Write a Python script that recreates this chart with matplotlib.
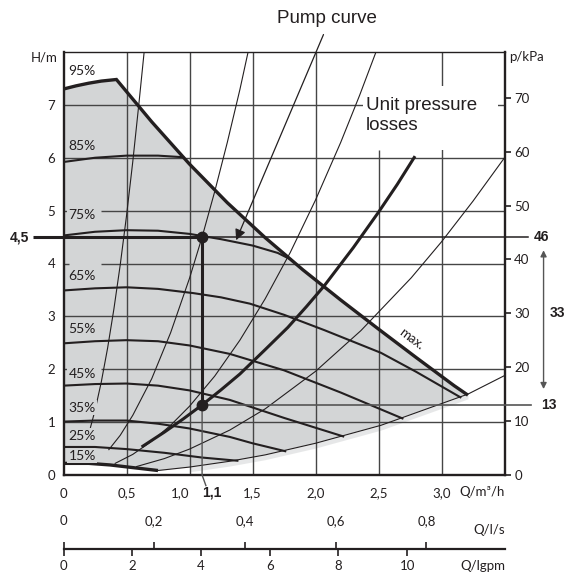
import matplotlib
matplotlib.use("Agg")
import matplotlib.pyplot as plt
from matplotlib.patches import Rectangle

plt.rcParams['font.family'] = ['Lato', 'DejaVu Sans']

INK = '#231f20'
GRID = '#454545'
FILL = '#d3d5d6'

# Axis ranges and unit conversions
Q_MAX, H_MAX = 3.5, 8.0
KPA_PER_M = 9.81
M3H_PER_LS = 3.6
M3H_PER_IGPM = 0.2727654

h_ticks = [0, 1, 2, 3, 4, 5, 6, 7]
q_ticks = [0, 0.5, 1.0, 1.5, 2.0, 2.5, 3.0]
q_ticklabels = ["0", "0,5", "1,0", "1,5", "2,0", "2,5", "3,0"]
kpa_ticks = [0, 10, 20, 30, 40, 50, 60, 70]
ls_ticks = [0, 0.2, 0.4, 0.6, 0.8]
ls_ticklabels = ["0", "0,2", "0,4", "0,6", "0,8"]
igpm_ticks = [0, 2, 4, 6, 8, 10]

# Pump speed curves, flow Q (m3/h) against head H (m)
curve_95_q = [0, 0.1, 0.2, 0.3, 0.42]
curve_95_h = [7.30, 7.36, 7.41, 7.45, 7.48]
max_q = [0.42, 0.7, 1.0, 1.3, 1.6, 1.9, 2.2, 2.5, 2.8, 3.1, 3.21]
max_h = [7.48, 6.68, 5.88, 5.15, 4.49, 3.88, 3.31, 2.76, 2.22, 1.69, 1.51]
curve_85_q = [0, 0.25, 0.5, 0.75, 0.95]
curve_85_h = [5.92, 6.00, 6.04, 6.04, 6.01]
curve_75_q = [0, 0.25, 0.5, 0.75, 1.0, 1.1, 1.25, 1.5, 1.7, 1.8]
curve_75_h = [4.53, 4.60, 4.63, 4.62, 4.56, 4.52, 4.46, 4.34, 4.20, 4.08]
curve_65_q = [0, 0.25, 0.5, 0.75, 1.03, 1.25, 1.48, 1.75, 2.07, 2.52, 2.8, 3.15]
curve_65_h = [3.49, 3.53, 3.55, 3.52, 3.44, 3.36, 3.24, 3.03, 2.74, 2.31, 1.95, 1.47]
curve_55_q = [0, 0.25, 0.5, 0.75, 1.0, 1.32, 1.75, 2.2, 2.69]
curve_55_h = [2.49, 2.53, 2.55, 2.53, 2.45, 2.29, 1.98, 1.56, 1.07]
curve_45_q = [0, 0.25, 0.5, 0.75, 1.0, 1.32, 1.75, 2.22]
curve_45_h = [1.69, 1.72, 1.73, 1.69, 1.60, 1.42, 1.08, 0.73]
curve_35_q = [0, 0.25, 0.5, 0.75, 1.0, 1.32, 1.5, 1.76]
curve_35_h = [1.01, 1.03, 1.03, 0.97, 0.88, 0.72, 0.60, 0.45]
curve_25_q = [0, 0.25, 0.5, 0.8, 1.1, 1.38]
curve_25_h = [0.53, 0.53, 0.49, 0.42, 0.33, 0.27]
curve_15_q = [0, 0.2, 0.37, 0.55, 0.75]
curve_15_h = [0.22, 0.22, 0.19, 0.14, 0.085]

# Lower limit of the working field
limit_q = [0.75, 1.0, 1.32, 1.6, 2.0, 2.52, 3.0, 3.21, 3.5]
limit_h = [0.085, 0.15, 0.26, 0.38, 0.60, 0.94, 1.35, 1.53, 1.88]

# System characteristics
sys_a_q = [0.214, 0.25, 0.3, 0.35, 0.4, 0.45, 0.5, 0.55, 0.6, 0.64]
sys_a_h = [0.90, 1.22, 1.76, 2.40, 3.14, 3.97, 4.90, 5.93, 7.06, 8.0]
sys_b_q = [0.36, 0.45, 0.55, 0.7, 0.85, 1.0, 1.1, 1.2, 1.3, 1.4, 1.465]
sys_b_h = [0.48, 0.75, 1.13, 1.82, 2.69, 3.72, 4.50, 5.36, 6.29, 7.29, 8.0]
sys_c_q = [0.41, 0.55, 0.7, 0.85, 1.0, 1.2, 1.4, 1.6, 1.8, 2.0, 2.2, 2.35, 2.48]
sys_c_h = [0.22, 0.39, 0.64, 0.94, 1.30, 1.87, 2.55, 3.33, 4.21, 5.20, 6.29, 7.18, 8.0]
sys_f_q = [0.58, 0.8, 1.0, 1.32, 1.6, 2.0, 2.36, 2.76, 3.0, 3.25, 3.5]
sys_f_h = [0.16, 0.31, 0.49, 0.85, 1.25, 1.96, 2.73, 3.73, 4.41, 5.18, 6.0]

# Unit pressure losses
loss_q = [0.62, 0.8, 0.95, 1.1, 1.25, 1.4, 1.6, 1.78, 1.93, 2.07, 2.3, 2.5, 2.65, 2.79]
loss_h = [0.53, 0.81, 1.06, 1.325, 1.61, 1.91, 2.37, 2.79, 3.19, 3.58, 4.30, 4.97, 5.50, 6.03]

# Operating point
op_q = 1.1
op_h = 4.5
op_kpa = 46
loss_kpa = 13
diff_kpa = 33

speed_labels = ["95%", "85%", "75%", "65%", "55%", "45%", "35%", "25%", "15%"]
speed_label_h = [7.65, 6.22, 4.91, 3.76, 2.76, 1.91, 1.27, 0.74, 0.36]

fig = plt.figure(figsize=(5.68, 5.72), dpi=100)
L, W = 63.5 / 568, 441 / 568
B, Ht = 1 - 475 / 572, 423 / 572
ax = fig.add_axes([L, B, W, Ht])
ax.set_xlim(0, Q_MAX)
ax.set_ylim(0, H_MAX)

# working field
poly_q = ([0] + curve_95_q + max_q[1:]
          + [q for q in limit_q if q <= 3.21][::-1] + curve_15_q[::-1])
poly_h = ([curve_15_h[0]] + curve_95_h + max_h[1:]
          + [h for q, h in zip(limit_q, limit_h) if q <= 3.21][::-1] + curve_15_h[::-1])
ax.fill(poly_q, poly_h, color=FILL, lw=0, zorder=1)
shade_q = [q for q in limit_q if 0.9 <= q <= 3.21]
shade_h = [h for q, h in zip(limit_q, limit_h) if 0.9 <= q <= 3.21]
ax.fill_between(shade_q, [h - 0.09 for h in shade_h], shade_h, color=FILL,
                alpha=0.55, lw=0, zorder=1)

# grid
for q in [0.5, 1.0, 1.5, 2.0, 3.0]:
    ax.vlines(q, 0, H_MAX, color=GRID, lw=1.0, zorder=2)
ax.vlines(2.5, 0, 6.15, color=GRID, lw=1.0, zorder=2)
for h in [1, 3, 6, 7]:
    ax.hlines(h, 0, Q_MAX, color=GRID, lw=1.0, zorder=2)
for h in [2, 4, 5]:
    ax.hlines(h, 0, 0.04, color=GRID, lw=1.0, zorder=2)
    ax.hlines(h, 0.3, Q_MAX, color=GRID, lw=1.0, zorder=2)

# text panel for the loss curve caption
ax.add_patch(Rectangle((2.38, 6.15), 1.07, 1.2, facecolor='white', edgecolor='none', zorder=3))
ax.text(2.40, 6.80, "Unit pressure\nlosses", family=['Liberation Sans', 'DejaVu Sans'],
        fontsize=13.5, color=INK, ha='left', va='center', linespacing=1.3, zorder=6)

# system curves
for qs, hs in [(sys_a_q, sys_a_h), (sys_b_q, sys_b_h), (sys_c_q, sys_c_h),
               (sys_f_q, sys_f_h), (limit_q, limit_h)]:
    ax.plot(qs, hs, color=INK, lw=0.8, zorder=4, solid_joinstyle='round')

# speed curves
for qs, hs in [(curve_85_q, curve_85_h), (curve_75_q, curve_75_h), (curve_65_q, curve_65_h),
               (curve_55_q, curve_55_h), (curve_45_q, curve_45_h), (curve_35_q, curve_35_h),
               (curve_25_q, curve_25_h)]:
    ax.plot(qs, hs, color=INK, lw=1.5, zorder=4, solid_joinstyle='round')
ax.plot(curve_95_q + max_q[1:], curve_95_h + max_h[1:], color=INK, lw=2.4, zorder=4,
        solid_joinstyle='miter', solid_capstyle='butt')
ax.plot(curve_15_q, curve_15_h, color=INK, lw=2.4, zorder=4, solid_capstyle='butt')
ax.plot(loss_q, loss_h, color=INK, lw=2.2, zorder=4, solid_capstyle='butt',
        solid_joinstyle='round')

ax.text(2.76, 2.57, "max.", rotation=-37, fontsize=9.5, color=INK,
        ha='center', va='center', zorder=6)

for lab, h in zip(speed_labels, speed_label_h):
    bbox = None if lab == "95%" else dict(boxstyle='square,pad=0.1', fc=FILL, ec='none')
    ax.text(0.04, h, lab, fontsize=10, color=INK, ha='left', va='center',
            bbox=bbox, zorder=5)

# operating point construction
loss_h_op = loss_kpa / KPA_PER_M
ax.plot([-0.24, op_q], [op_h, op_h], color=INK, lw=2.2, zorder=6, clip_on=False,
        solid_capstyle='butt')
ax.plot([op_q, 3.69], [op_h, op_h], color=INK, lw=1.1, zorder=6, clip_on=False)
ax.plot([op_q, 3.71], [loss_h_op, loss_h_op], color='#555555', lw=1.2, zorder=6, clip_on=False)
ax.plot([op_q, op_q], [op_h, loss_h_op], color=INK, lw=2.2, zorder=6)
ax.plot([op_q, op_q, 1.13], [loss_h_op, 0, -0.2], color='#555555', lw=1.0, zorder=6,
        clip_on=False)
ax.plot([op_q, op_q], [op_h, loss_h_op], 'o', color=INK, ms=7.5, zorder=7)

bold = dict(family=['Liberation Sans', 'DejaVu Sans'], fontweight='bold', color=INK,
            fontsize=10, va='center')
ax.text(-0.27, op_h, "4,5", ha='right', clip_on=False, **bold)
ax.text(3.735, op_h, str(op_kpa), ha='left', clip_on=False, **bold)
ax.text(3.79, loss_h_op, str(loss_kpa), ha='left', clip_on=False, **bold)
ax.text(3.86, 3.06, str(diff_kpa), ha='left', clip_on=False, **bold)
ax.text(1.10, -0.33, "1,1", ha='left', clip_on=False, **bold)
ax.annotate("", xy=(3.81, loss_h_op + 0.3), xytext=(3.81, op_h - 0.25),
            xycoords='data', annotation_clip=False,
            arrowprops=dict(arrowstyle='<|-|>', color='#555555', lw=1.0,
                            mutation_scale=9, shrinkA=0, shrinkB=0))

# pump curve pointer
ax.annotate("Pump curve", xy=(1.37, 4.44), xytext=(2.09, 8.64),
            textcoords='data', annotation_clip=False,
            family=['Liberation Sans', 'DejaVu Sans'], fontsize=13.5, color=INK,
            ha='center', va='center',
            arrowprops=dict(arrowstyle='-|>', color=INK, lw=0.9, mutation_scale=16,
                            shrinkA=4, shrinkB=0, relpos=(0.5, 0)))

# axes styling
for side in ['left', 'right', 'bottom']:
    ax.spines[side].set_linewidth(1.7)
    ax.spines[side].set_color(INK)
ax.spines['top'].set_linewidth(1.0)
ax.spines['top'].set_color(INK)
ax.set_yticks(h_ticks, labels=[str(t) for t in h_ticks])
ax.set_xticks(q_ticks, labels=q_ticklabels)
ax.tick_params(axis='y', length=0, pad=6, labelsize=9.5, labelcolor=INK)
ax.tick_params(axis='x', length=0, pad=9, labelsize=9.5, labelcolor=INK)
# pull the "1,0" label left so it clears the operating-flow label
for lbl in ax.get_xticklabels():
    if lbl.get_text() == "1,0":
        lbl.set_horizontalalignment('right')
        lbl.set_x(1.0)
ax.text(-0.05, 7.9, "H/m", ha='right', va='center', fontsize=9.5, color=INK, clip_on=False)

pax = ax.secondary_yaxis('right', functions=(lambda h: h * KPA_PER_M, lambda p: p / KPA_PER_M))
pax.set_yticks(kpa_ticks, labels=[str(t) for t in kpa_ticks])
pax.tick_params(length=4, width=1.2, pad=3, labelsize=9.5, labelcolor=INK, color=INK)
pax.spines['right'].set_visible(False)
ax.text(3.54, 7.9, "p/kPa", ha='left', va='center', fontsize=9.5, color=INK, clip_on=False)

ax.text(3.5, -0.33, "Q/m³/h", ha='right', va='center', fontsize=9.5, color=INK, clip_on=False)

# lower flow scales in l/s and Imperial gpm
y_line = 1 - 549 / 572
qax = fig.add_axes([L, y_line, W, 1e-4])
qax.set_xlim(0, Q_MAX)
qax.set_ylim(0, 1)
qax.set_yticks([])
qax.set_xticks([])
for s in ['left', 'right', 'top', 'bottom']:
    qax.spines[s].set_visible(False)
qax.patch.set_visible(False)

ls_ax = qax.secondary_xaxis('top', functions=(lambda q: q / M3H_PER_LS, lambda v: v * M3H_PER_LS))
ls_ax.set_xticks(ls_ticks, labels=ls_ticklabels)
ls_ax.tick_params(length=5, width=1.2, pad=11, labelsize=9.5, labelcolor=INK, color=INK)
ls_ax.spines['top'].set_visible(False)

gpm_ax = qax.secondary_xaxis('bottom', functions=(lambda q: q / M3H_PER_IGPM, lambda v: v * M3H_PER_IGPM))
gpm_ax.set_xticks(igpm_ticks, labels=[str(t) for t in igpm_ticks])
gpm_ax.tick_params(length=5, width=1.2, pad=3, labelsize=9.5, labelcolor=INK, color=INK)
gpm_ax.spines['bottom'].set_linewidth(1.6)
gpm_ax.spines['bottom'].set_color(INK)

fig.text(505 / 568, 1 - 530 / 572, "Q/l/s", ha='right', va='center', fontsize=9.5, color=INK)
fig.text(505 / 568, 1 - 566 / 572, "Q/lgpm", ha='right', va='center', fontsize=9.5, color=INK)

fig.savefig("out.png", dpi=100)
